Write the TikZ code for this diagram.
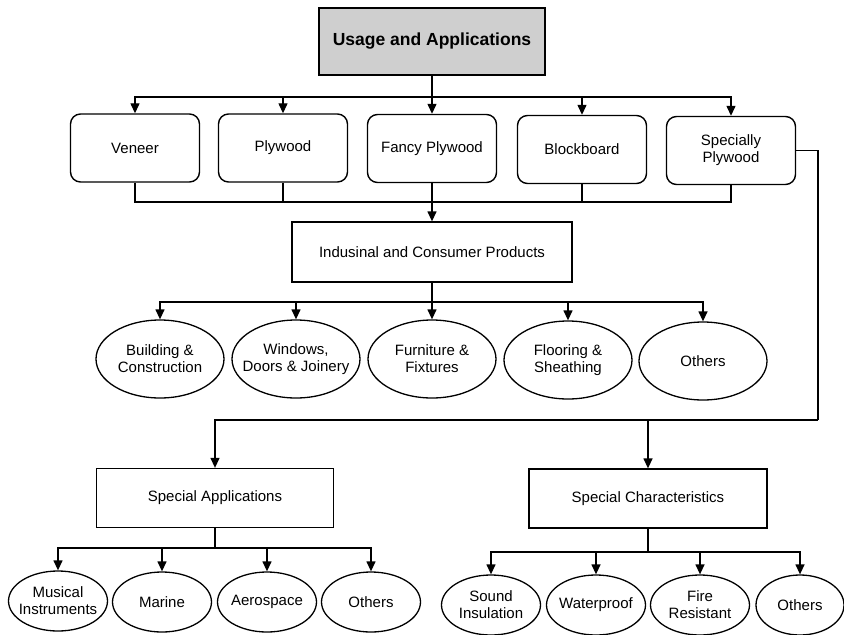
\documentclass[tikz,border=0pt]{standalone}
\usepackage{fontspec}
\setmainfont{Liberation Sans}
\usetikzlibrary{arrows.meta,shapes.geometric}
\begin{document}
\begin{tikzpicture}[x=1pt,y=-1pt,
  conn/.style={line width=1.3pt},
  arr/.style={conn,-{Triangle[width=9pt,length=10pt]}},
  txt/.style={font=\fontsize{15}{17}\selectfont, align=center, inner sep=0pt},
  titlebox/.style={draw, line width=1.5pt, fill=gray!38, minimum width=226pt, minimum height=67pt, font=\bfseries\fontsize{17.5}{20}\selectfont, inner sep=0pt},
  rbox/.style={txt, draw, line width=1.4pt, rounded corners=10pt, minimum width=129pt, minimum height=68pt},
  sbox/.style={txt, draw, line width=1.3pt},
  ell/.style={txt, ellipse, draw, line width=1.3pt, inner xsep=-22pt, inner ysep=-4pt},
  bigell/.style={ell, minimum width=128pt, minimum height=78pt},
  smell/.style={ell, minimum width=99pt, minimum height=60pt}
]
\useasboundingbox (0,0) rectangle (844,635);

% title
\node[titlebox] (title) at (432,41.5) {Usage and Applications};

% top row
\node[rbox] (ven) at (135,148) {Veneer};
\node[rbox] (ply) at (283,148) {Plywood};
\node[rbox] (fan) at (432,148.5) {Fancy Plywood};
\node[rbox] (blo) at (582,149.5) {Blockboard};
\node[rbox] (spe) at (731,150.5) {Specially\\Plywood};

\coordinate (j1) at (432,97);
\draw[conn] (title) -- (j1);
\foreach \n in {ven,ply,fan,blo,spe} \draw[arr] (j1) -| (\n);

\coordinate (j2) at (432,202);
\foreach \n in {ven,ply,fan,blo,spe} \draw[conn] (\n) |- (j2);

% industrial
\node[sbox, minimum width=280pt, minimum height=60pt] (ind) at (432,252) {Indusinal and Consumer Products};
\draw[arr] (j2) -- (ind);

\coordinate (j3) at (432,302);
\draw[conn] (ind) -- (j3);
\node[bigell] (e1) at (160,359) {Building \&\\Construction};
\node[bigell] (e2) at (296,359) {Windows,\\Doors \& Joinery};
\node[bigell] (e3) at (432,359) {Furniture \&\\Fixtures};
\node[bigell] (e4) at (568,360) {Flooring \&\\Sheathing};
\node[bigell] (e5) at (703,361) {Others};
\foreach \n in {e1,e2,e3,e4,e5} \draw[arr] (j3) -| (\n);

% right route
\coordinate (r1) at (818,150.5);
\coordinate (r2) at (818,420);
\coordinate (j5) at (648,420);
\draw[conn] (spe) -- (r1) -- (r2);

\node[sbox, minimum width=237pt, minimum height=59pt] (sa) at (215,498) {Special Applications};
\node[sbox, minimum width=238pt, minimum height=59pt] (sc) at (648,498.5) {Special Characteristics};
\draw[arr] (r2) -| (sa);
\draw[arr] (j5) -- (sc);

% special applications children
\coordinate (j6) at (215,548);
\draw[conn] (sa) -- (j6);
\node[smell] (m1) at (58,601) {Musical\\Instruments};
\node[smell] (m2) at (162,602) {Marine};
\node[smell] (m3) at (267,602) {Aerospace};
\node[smell] (m4) at (371,602) {Others};
\foreach \n in {m1,m2,m3,m4} \draw[arr] (j6) -| (\n);

% special characteristics children
\coordinate (j7) at (648,552);
\draw[conn] (sc) -- (j7);
\node[smell] (c1) at (491,605) {Sound\\Insulation};
\node[smell] (c2) at (596,605) {Waterproof};
\node[smell] (c3) at (700,605) {Fire\\Resistant};
\node[smell, minimum width=88pt] (c4) at (800,605) {Others};
\foreach \n in {c1,c2,c3,c4} \draw[arr] (j7) -| (\n);
\end{tikzpicture}
\end{document}
